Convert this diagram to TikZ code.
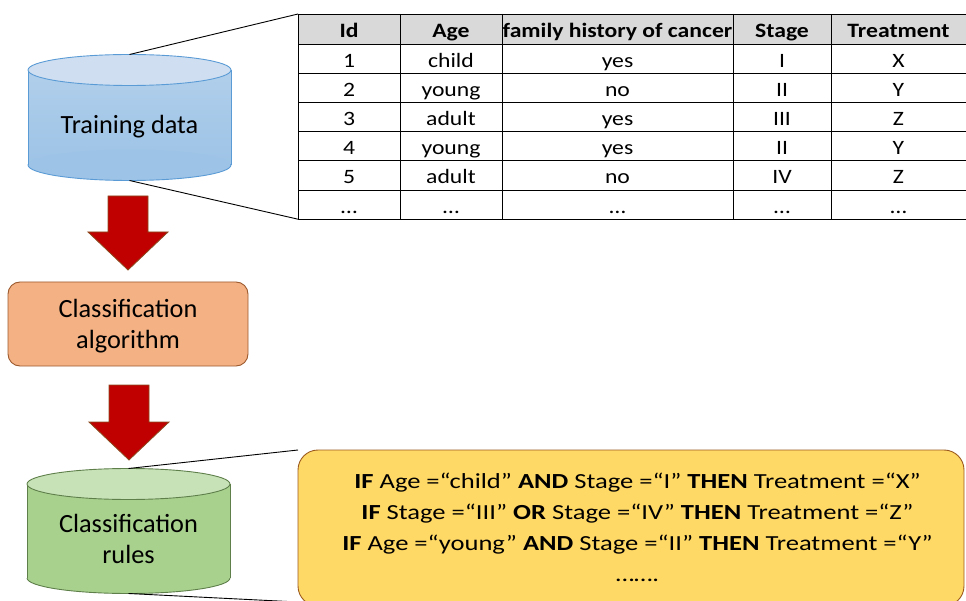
\documentclass[tikz,border=0pt]{standalone}
\usepackage{fontspec}
\setmainfont{Carlito}
\newfontfamily\tablefont[FakeStretch=1.16]{Carlito}
\newfontfamily\rulefont[FakeStretch=1.235]{Carlito}
\definecolor{dbblue}{HTML}{9DC3E6}
\definecolor{dbbluetop}{HTML}{CFDFF1}
\definecolor{dbblueedge}{HTML}{5B9BD5}
\definecolor{dbgreen}{HTML}{A9D18E}
\definecolor{dbgreentop}{HTML}{C8E2B8}
\definecolor{dbgreenedge}{HTML}{5E7F4A}
\definecolor{algofill}{HTML}{F4B183}
\definecolor{algoedge}{HTML}{9C5A2E}
\definecolor{arrowred}{HTML}{C00000}
\definecolor{arrowedge}{HTML}{8A4A1E}
\definecolor{rulefill}{HTML}{FFD966}
\definecolor{ruleedge}{HTML}{9C5A1E}
\definecolor{headgray}{HTML}{D9D9D9}
\begin{document}
\begin{tikzpicture}[x=1pt,y=-1pt,
  bigtext/.style={font=\fontsize{26.3}{31}\selectfont, align=center, inner sep=0pt},
  celltext/.style={font=\tablefont\fontsize{20.4}{24}\selectfont, inner sep=0pt, anchor=base},
  headtext/.style={celltext, font=\tablefont\fontsize{20.4}{24}\selectfont\bfseries},
  ruletext/.style={font=\rulefont\fontsize{21.5}{31}\selectfont, align=center, inner sep=0pt},
  zoomline/.style={line width=0.9pt, black},
  blockarrow/.style={fill=arrowred, draw=arrowedge, line width=0.8pt, line join=miter}]
\useasboundingbox (0,0) rectangle (966,601);

% ---- Training data cylinder ----
\fill[top color=dbblue!80!white, bottom color=dbblue] (28,70) rectangle (231,165);
\fill[dbblue] (129.5,165) ellipse [x radius=101.5, y radius=15.5];
\begin{scope}
  \clip (0,165) rectangle (300,200);
  \draw[dbblueedge, line width=0.9pt] (129.5,165) ellipse [x radius=101.5, y radius=15.5];
\end{scope}
\draw[dbblueedge, line width=0.9pt] (28,70) -- (28,165) (231,70) -- (231,165);
\filldraw[fill=dbbluetop, draw=dbblueedge, line width=0.9pt] (129.5,70) ellipse [x radius=101.5, y radius=15.5];
\node[bigtext, anchor=base] (train) at (129.5,133.3) {Training data};
\coordinate (traintop) at (129.5,54.5);
\coordinate (trainbot) at (129.5,180.5);

% ---- Data table ----
\fill[headgray] (298,14) rectangle (966,44);
\foreach \y in {14,44,73.2,102.4,131.6,160.8,190,219.2}
  \draw[line width=0.9pt] (298,\y) -- (966,\y);
\foreach \x in {298,400,502,733,831}
  \draw[line width=0.9pt] (\x,14) -- (\x,219.2);
\coordinate (tabtl) at (298,14);
\coordinate (tabbl) at (298,219.2);

\foreach \t [count=\c] in {Id,Age,family history of cancer,Stage,Treatment}{
  \pgfmathsetmacro\cx{{349,451,617.5,782,898.5}[\c-1]}
  \node[headtext] (h\c) at (\cx,38) {\t};
}
\foreach \a/\b/\cc/\d/\e [count=\r] in {1/child/yes/I/X, 2/young/no/II/Y, 3/adult/yes/III/Z, 4/young/yes/II/Y, 5/adult/no/IV/Z, …/…/…/…/…}{
  \pgfmathsetmacro\cy{44+29.2*\r-6}
  \node[celltext] (c\r-1) at (349,\cy) {\a};
  \node[celltext] (c\r-2) at (451,\cy) {\b};
  \node[celltext] (c\r-3) at (617.5,\cy) {\cc};
  \node[celltext] (c\r-4) at (782,\cy) {\d};
  \node[celltext] (c\r-5) at (898.5,\cy) {\e};
}
\draw[zoomline] (traintop) -- (tabtl);
\draw[zoomline] (trainbot) -- (tabbl);

% ---- First block arrow ----
\draw[blockarrow] (108,196) -- (148,196) -- (148,232) -- (168,232) -- (128,270) -- (88,232) -- (108,232) -- cycle;

% ---- Classification algorithm ----
\draw[fill=algofill, draw=algoedge, line width=0.9pt, rounded corners=12] (8,282) rectangle (248,366);
\node[bigtext] (algo) at (128,326) {Classification\\algorithm};

% ---- Second block arrow ----
\draw[blockarrow] (109,385) -- (149,385) -- (149,422) -- (169,422) -- (129,460) -- (89,422) -- (109,422) -- cycle;

% ---- Classification rules cylinder ----
\fill[dbgreen] (27,484) rectangle (230,578);
\fill[dbgreen] (128.5,578) ellipse [x radius=101.5, y radius=15.5];
\begin{scope}
  \clip (0,578) rectangle (300,601);
  \draw[dbgreenedge, line width=0.9pt] (128.5,578) ellipse [x radius=101.5, y radius=15.5];
\end{scope}
\draw[dbgreenedge, line width=0.9pt] (27,484) -- (27,578) (230,484) -- (230,578);
\filldraw[fill=dbgreentop, draw=dbgreenedge, line width=0.9pt] (128.5,484) ellipse [x radius=101.5, y radius=15.5];
\node[bigtext] (rules) at (128.5,539) {Classification\\rules};
\coordinate (rulestop) at (128.5,468.5);
\coordinate (rulesbot) at (128.5,593.5);

% ---- Rules box ----
\draw[fill=rulefill, draw=ruleedge, line width=0.9pt, rounded corners=20] (298,450) rectangle (964,606);
\coordinate (boxtl) at (298,450);
\coordinate (boxbl) at (298,602);
\draw[zoomline] (rulestop) -- (boxtl);
\draw[zoomline] (rulesbot) -- (boxbl);
\node[ruletext] (ruleset) at (637.5,527.5) {%
  \textbf{IF} Age =“child” \textbf{AND} Stage =“I” \textbf{THEN} Treatment =“X”\\
  \textbf{IF} Stage =“III” \textbf{OR} Stage =“IV” \textbf{THEN} Treatment =“Z”\\
  \textbf{IF} Age =“young” \textbf{AND} Stage =“II” \textbf{THEN} Treatment =“Y”\\
  …….};
\end{tikzpicture}
\end{document}
